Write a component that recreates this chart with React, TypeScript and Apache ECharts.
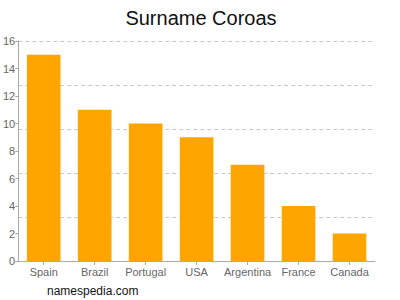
import React, { useEffect, useRef } from "react";
import * as echarts from "echarts";

const categories = ["Spain", "Brazil", "Portugal", "USA", "Argentina", "France", "Canada"];
const values = [15, 11, 10, 9, 7, 4, 2];
const titleText = "Surname Coroas";
const footerText = "namespedia.com";

export default function App() {
  const ref = useRef<HTMLDivElement>(null);
  useEffect(() => {
    const chart = echarts.init(ref.current!, null, { renderer: "svg" });
    chart.setOption({
      animation: false,
      backgroundColor: "#ffffff",
      textStyle: { fontFamily: "Liberation Sans, Arial, sans-serif" },
      title: {
        text: titleText,
        left: 196,
        textAlign: "center",
        top: 3,
        textStyle: { fontSize: 20, fontWeight: "normal", color: "#111", fontFamily: "Liberation Sans, Arial, sans-serif" },
      },
      graphic: [
        {
          type: "text",
          left: 47,
          top: 285,
          style: { text: footerText, fontSize: 12, fill: "#111", fontFamily: "Liberation Sans, Arial, sans-serif" },
        },
      ],
      grid: { left: 16, right: 25, top: 41, bottom: 39, containLabel: false },
      xAxis: {
        type: "category",
        data: categories,
        axisLine: { lineStyle: { color: "#aaa" } },
        axisTick: { show: true, alignWithLabel: true, length: 4, lineStyle: { color: "#aaa" } },
        axisLabel: { color: "#666", fontSize: 11, margin: 5, interval: 0 },
      },
      yAxis: [
        {
          type: "value",
          min: 0,
          max: 16,
          interval: 2,
          axisLine: { show: true, lineStyle: { color: "#aaa" } },
          axisTick: { show: true, length: 3, lineStyle: { color: "#aaa" } },
          axisLabel: { color: "#666", fontSize: 11, margin: 3 },
          splitLine: { show: false },
        },
        {
          type: "value",
          min: 0,
          max: 16,
          interval: 3.2,
          position: "left",
          axisLine: { show: false },
          axisTick: { show: false },
          axisLabel: { show: false },
          splitLine: { show: true, lineStyle: { color: "#c8c8c8", type: [4, 3] } },
        },
      ],
      series: [
        {
          type: "bar",
          data: values,
          yAxisIndex: 0,
          barWidth: "66%",
          itemStyle: { color: "#FFA500" },
        },
      ],
    });
    return () => chart.dispose();
  }, []);
  return <div ref={ref} style={{ position: "fixed", left: 0, top: 0, width: 400, height: 300 }} />;
}
